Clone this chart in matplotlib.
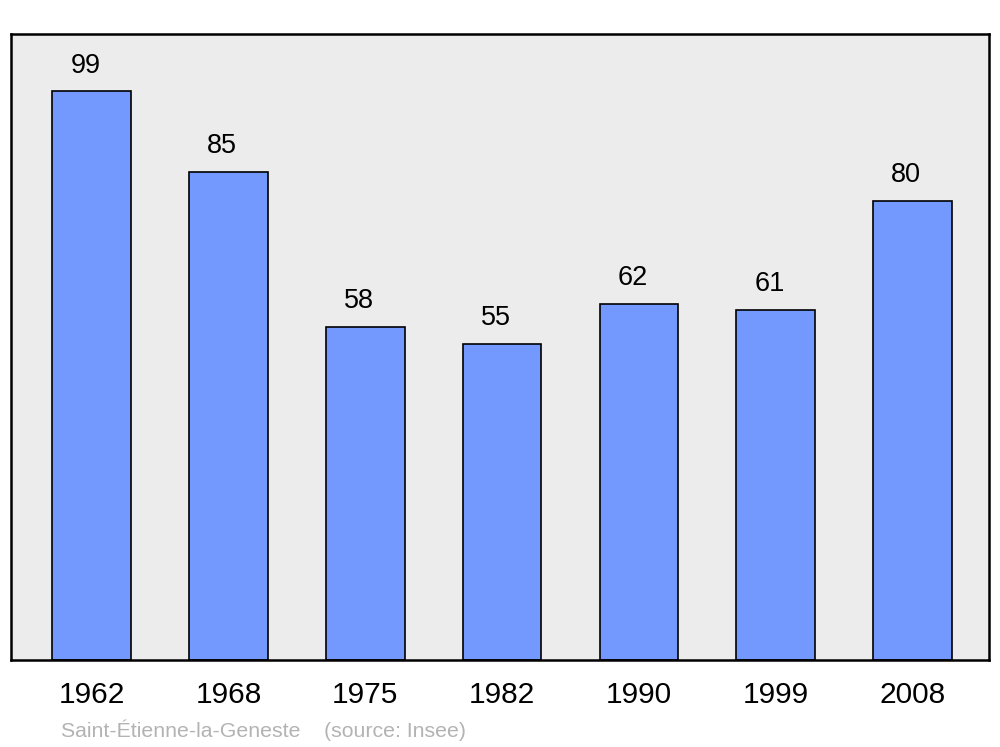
import numpy as np
import matplotlib.pyplot as plt

years = ['1962', '1968', '1975', '1982', '1990', '1999', '2008']
population = [99, 85, 58, 55, 62, 61, 80]
source = 'Saint-Étienne-la-Geneste    (source: Insee)'

plt.rcParams['font.family'] = ['Liberation Sans', 'DejaVu Sans']

fig = plt.figure(figsize=(10, 7.47), dpi=100)
ax = fig.add_axes([0.011, 0.1165, 0.978, 0.838])
ax.set_facecolor('#ececec')

x = np.arange(len(years))
bars = ax.bar(x, population, width=0.575, color='#7399ff', edgecolor='black', linewidth=1.2, zorder=2)

# value labels sit a little left of the bar centre, as in the original
for xi, v in zip(x, population):
    ax.annotate(str(v), (xi, v), xytext=(-4.5, 13.5), textcoords='offset points',
                ha='center', va='baseline', fontsize=19.5)

ax.set_xlim(-0.59, 6.56)
ax.set_ylim(0, 109)
ax.set_xticks(x)
ax.set_xticklabels(years, fontsize=21.5)
ax.set_yticks([])
ax.tick_params(axis='x', length=0, pad=15)
for s in ax.spines.values():
    s.set_linewidth(1.8)

fig.text(0.061, 1 - 737 / 747, source, fontsize=15.3, color='#b3b3b3', va='baseline')

plt.savefig('out.png')
